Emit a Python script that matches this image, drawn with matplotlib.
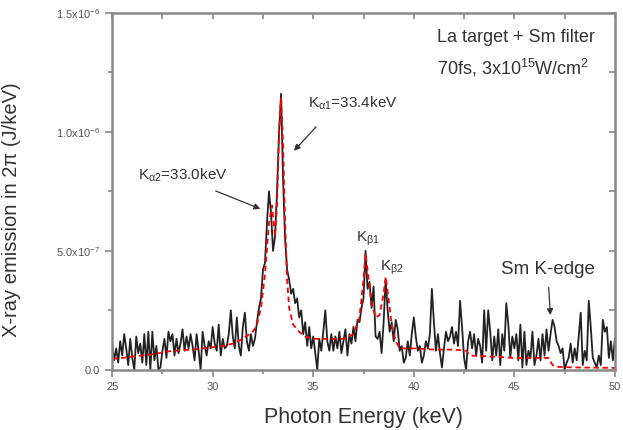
import numpy as np
import matplotlib
matplotlib.use("Agg")
import matplotlib.pyplot as plt
from matplotlib.ticker import MultipleLocator, FixedLocator, FixedFormatter

# measured spectrum, 25.0 .. 50.0 keV in 0.1 keV steps (units of 1e-7 J/keV)
energy_start, energy_step = 25.0, 0.1
spectrum = [
    1.1, 0.4, 0.9, 0.3, 1.2, 0.6, 1.5, 0.9, 0.2, 1.3,
    0.5, 0.0, 1.4, 0.7, 1.1, 0.3, 1.5, 0.2, 1.6, 0.0,
    1.6, 0.4, 1.0, 0.0, 0.1, 0.8, 1.3, 0.5, 1.6, 1.2,
    1.5, 0.6, 1.3, 0.7, 1.1, 1.7, 0.8, 1.4, 0.9, 1.5,
    1.0, 0.4, 1.5, 0.8, 0.0, 1.6, 1.0, 0.6, 1.2, 0.9,
    1.8, 1.1, 0.8, 1.9, 0.6, 1.3, 0.9, 1.0, 1.5, 2.5,
    1.4, 0.9, 2.2, 1.0, 0.6, 1.8, 2.4, 1.2, 0.8, 1.5,
    1.0, 1.3, 2.0, 2.6, 3.0, 4.2, 4.5, 6.2, 7.5, 6.6,
    5.0, 5.6, 7.5, 10.0, 11.6, 8.0, 5.5, 4.2, 3.8, 3.2,
    3.4, 2.8, 3.0, 2.2, 2.5, 1.5, 2.0, 1.0, 1.8, 0.9,
    1.4, 0.7, 0.0, 1.3, 0.8, 1.6, 2.5, 1.2, 0.8, 1.5,
    0.8, 1.4, 0.9, 1.6, 0.7, 1.2, 1.7, 0.6, 1.5, 1.1,
    1.8, 1.2, 2.1, 2.0, 2.6, 3.0, 5.0, 3.4, 3.7, 2.6,
    3.5, 1.4, 1.3, 1.6, 0.7, 2.0, 3.8, 2.5, 1.6, 2.0,
    1.2, 2.1, 1.7, 0.8, 1.0, 0.3, 0.5, 1.2, 0.6, 1.5,
    2.2, 1.4, 0.8, 1.0, 0.3, 0.6, 1.2, 0.9, 1.5, 3.4,
    2.0, 0.8, 1.5, 0.7, 0.1, 0.9, 1.6, 1.2, 1.4, 1.8,
    1.1, 1.6, 1.0, 2.9, 1.8, 0.5, 0.0, 1.2, 1.6, 0.9,
    1.5, 0.6, 1.3, 1.0, 0.3, 2.5, 0.8, 2.5, 1.6, 0.4,
    1.4, 0.6, 1.7, 0.2, 1.5, 0.8, 2.8, 1.9, 0.5, 1.4,
    0.9, 1.5, 0.4, 1.9, 0.1, 1.6, 0.2, 0.8, 0.5, 1.6,
    0.2, 0.6, 1.3, 0.4, 1.5, 0.6, 1.7, 0.8, 1.5, 2.1,
    1.8, 1.2, 1.0, 0.7, 0.9, 0.0, 0.3, 0.5, 1.1, 0.3,
    0.9, 0.4, 1.4, 2.4, 0.2, 0.8, 0.4, 2.9, 1.8, 0.5,
    0.3, 0.1, 0.6, 0.2, 2.1, 1.6, 1.8, 0.5, 1.2, 0.4,
    1.3,
]

# fitted curve (red dashed), units of 1e-7 J/keV
fit_energy = [25.0, 26.0, 27.0, 28.0, 29.0, 30.0, 30.5, 31.0, 31.5, 32.0,
              32.2, 32.4, 32.6, 32.8, 32.95, 33.1, 33.2, 33.3, 33.4, 33.5,
              33.6, 33.7, 33.8, 34.0, 34.3, 34.6, 35.0, 36.0, 36.5, 37.0,
              37.3, 37.5, 37.6, 37.7, 37.9, 38.1, 38.3, 38.5, 38.6, 38.7,
              38.9, 39.1, 39.3, 40.0, 41.0, 42.0, 42.6, 42.8, 44.0, 45.0,
              46.0, 46.7, 46.9, 47.2, 48.0, 50.0]
fit_values = [0.45, 0.55, 0.65, 0.8, 0.85, 0.95, 1.0, 1.1, 1.3, 1.6,
              1.9, 2.6, 4.0, 6.2, 6.9, 5.6, 7.0, 10.0, 11.4, 9.5,
              6.2, 3.8, 2.6, 1.9, 1.6, 1.4, 1.3, 1.3, 1.3, 1.5,
              2.2, 3.8, 4.9, 4.2, 2.8, 2.2, 2.3, 3.2, 3.9, 3.3,
              1.9, 1.2, 0.9, 0.9, 0.85, 0.85, 0.8, 0.6, 0.55, 0.5,
              0.5, 0.5, 0.2, 0.12, 0.1, 0.08]

ytick_vals = [0.0, 5e-7, 1e-6, 1.5e-6]
ytick_labels = ["0.0", r"5.0x10$^{-7}$", r"1.0x10$^{-6}$", r"1.5x10$^{-6}$"]

plt.rcParams['font.family'] = ['Liberation Sans', 'DejaVu Sans']
plt.rcParams['mathtext.fontset'] = 'custom'
plt.rcParams['mathtext.rm'] = 'Liberation Sans'
plt.rcParams['mathtext.it'] = 'Liberation Sans'

gray = '#888888'
txt = '#333333'

energy = energy_start + energy_step * np.arange(len(spectrum))
spec = np.array(spectrum) * 1e-7
fit = np.array(fit_values) * 1e-7

fig = plt.figure(figsize=(6.23, 4.30), dpi=100)
ax = fig.add_axes([0.180, 0.140, 0.807, 0.830])

ax.plot(energy, spec, color='#222222', lw=1.3)
ax.plot(fit_energy, fit, color='red', lw=1.3, dashes=(3, 2))

ax.set_xlim(25, 50)
ax.set_ylim(0, 1.5e-6)

ax.xaxis.set_major_locator(MultipleLocator(5))
ax.xaxis.set_minor_locator(MultipleLocator(2.5))
ax.yaxis.set_major_locator(FixedLocator(ytick_vals))
ax.yaxis.set_major_formatter(FixedFormatter(ytick_labels))
ax.yaxis.set_minor_locator(MultipleLocator(2.5e-7))
ax.tick_params(which='both', direction='out', colors=gray, labelcolor='#555555',
               labelsize=8, width=1.2)
ax.tick_params(which='major', length=5)
ax.tick_params(which='minor', length=3)

for s in ax.spines.values():
    s.set_color(gray)
    s.set_linewidth(1.8)

# inward ticks on top and right
top = ax.secondary_xaxis('top')
top.xaxis.set_major_locator(MultipleLocator(2.5))
top.tick_params(direction='in', length=4, colors=gray, labeltop=False, width=1.2)
top.spines['top'].set_visible(False)
right = ax.secondary_yaxis('right')
right.yaxis.set_major_locator(MultipleLocator(2.5e-7))
right.tick_params(direction='in', length=4, colors=gray, labelright=False, width=1.2)
right.spines['right'].set_visible(False)

ax.set_xlabel('Photon Energy (keV)', fontsize=15.5, color=txt)
ax.xaxis.set_label_coords(0.50, -0.105)
ax.set_ylabel('X-ray emission in 2\u03c0 (J/keV)', fontsize=14.5, color=txt)
ax.yaxis.set_label_coords(-0.181, 0.45)

ax.text(41.15, 1.395e-6, 'La target + Sm filter', fontsize=13, color=txt, ha='left', va='center')
ax.text(41.15, 1.269e-6, r'70fs, 3x10$^{15}$W/cm$^{2}$', fontsize=13, color=txt,
        ha='left', va='center')

ap = dict(arrowstyle='-|>', color=txt, lw=0.9, mutation_scale=9)
ax.annotate('', xy=(33.95, 9.12e-7), xytext=(35.24, 1.03e-6), arrowprops=ap)
ax.text(34.74, 1.118e-6, r'K$_{\alpha 1}$=33.4keV', fontsize=11, color=txt, ha='left', va='center')
ax.annotate('', xy=(32.5, 6.72e-7), xytext=(30.02, 7.56e-7), arrowprops=ap)
ax.text(26.3, 8.19e-7, r'K$_{\alpha 2}$=33.0keV', fontsize=11, color=txt, ha='left', va='center')
ax.text(37.7, 5.5e-7, r'K$_{\beta 1}$', fontsize=11, color=txt, ha='center', va='center')
ax.text(38.9, 4.3e-7, r'K$_{\beta 2}$', fontsize=11, color=txt, ha='center', va='center')
ax.annotate('', xy=(46.8, 2.18e-7), xytext=(46.7, 3.57e-7), arrowprops=ap)
ax.text(46.67, 4.22e-7, 'Sm K-edge', fontsize=13.5, color=txt, ha='center', va='center')

fig.savefig('out.png', dpi=100)
